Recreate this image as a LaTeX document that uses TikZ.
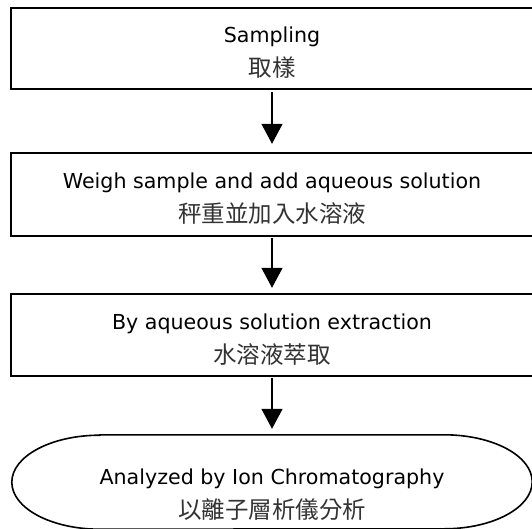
\documentclass[tikz,border=0pt]{standalone}
\usepackage{fontspec}
\setmainfont{DejaVu Sans}
\newfontfamily\cjk{Noto Sans CJK TC}
\usetikzlibrary{arrows.meta,calc}
\begin{document}
\begin{tikzpicture}[x=1pt,y=1pt,
  stepbox/.style={minimum width=522pt, inner sep=0pt,
    align=center, font=\fontsize{20.6}{29}\selectfont},
  boxline/.style={draw=black, line width=1.8pt},
  termtext/.style={inner sep=0pt, minimum width=520pt, minimum height=94pt,
    align=center, font=\fontsize{20.6}{29}\selectfont},
  termline/.style={draw=black, line width=1.6pt},
  arr/.style={line width=1.4pt, -{Triangle[width=21pt,length=20pt]}}]
\useasboundingbox (0,0) rectangle (532,528);
\newcommand{\zhtext}[1]{{\cjk\fontsize{23.5}{29}\selectfont\color{black!80}#1}}
\newcommand{\topstrut}[1]{\rule{0pt}{#1}}
\node[stepbox, minimum height=81pt] (b1) at (272,479.5) {\topstrut{24.7pt}Sampling\\[5pt]\zhtext{取樣}};
\node[stepbox, minimum height=83pt] (b2) at (272,333.5) {\topstrut{24.7pt}Weigh sample and add aqueous solution\\[5pt]\zhtext{秤重並加入水溶液}};
\node[stepbox, minimum height=82pt] (b3) at (272,193) {\topstrut{24.7pt}By aqueous solution extraction\\[5pt]\zhtext{水溶液萃取}};
\node[termtext] (t) at (272,46) {\topstrut{41.7pt}Analyzed by Ion Chromatography\\[5pt]\zhtext{以離子層析儀分析}};
\foreach \b in {b1,b2,b3}
  \draw[boxline] (\b.north west) rectangle ($(\b.south east)+(8,0)$);
\draw[termline] ($(t.north west)+(88,0)$) -- ($(t.north east)+(-88,0)$)
  arc[start angle=90, end angle=-90, x radius=88, y radius=47]
  -- ($(t.south west)+(88,0)$)
  arc[start angle=270, end angle=90, x radius=88, y radius=47] -- cycle;
\draw[arr, shorten <=3pt, shorten >=9pt] (b1.south) -- (b2.north);
\draw[arr, shorten <=2pt, shorten >=6pt] (b2.south) -- (b3.north);
\draw[arr, shorten <=2pt, shorten >=6pt] (b3.south) -- (t.north);
\end{tikzpicture}
\end{document}
